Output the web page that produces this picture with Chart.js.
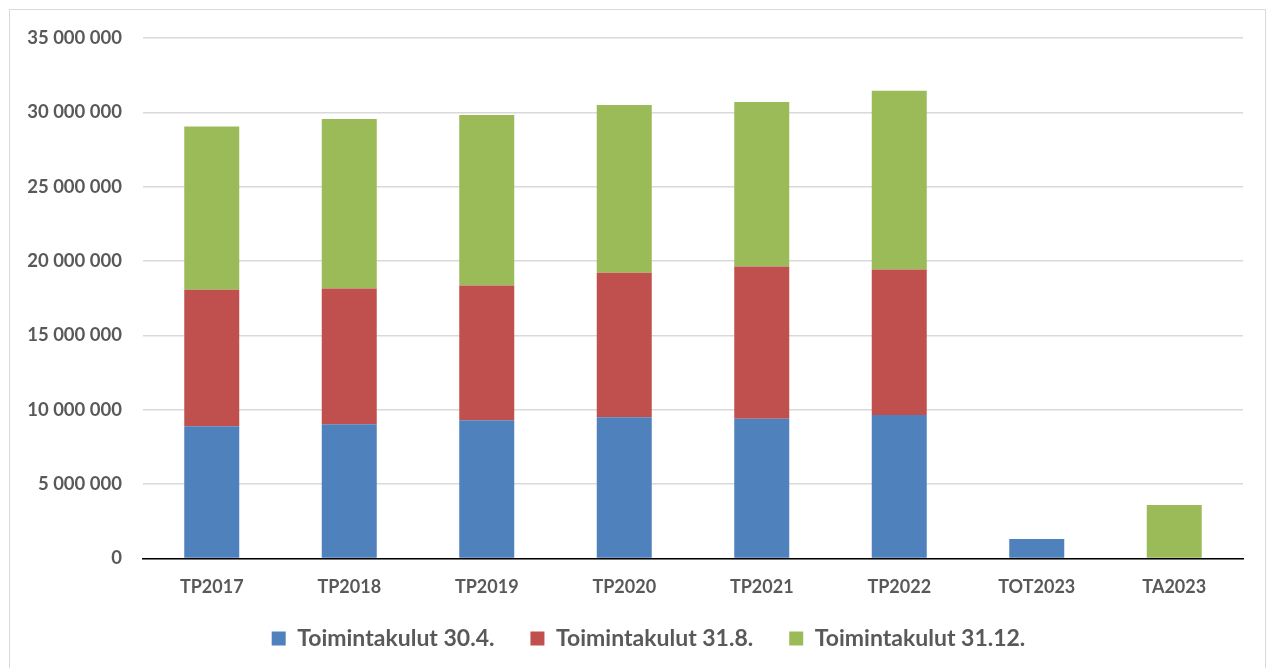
<!DOCTYPE html>
<html>
<head>
<meta charset="utf-8">
<script src="https://cdn.jsdelivr.net/npm/chart.js@4"></script>
<style>
  html, body { margin: 0; padding: 0; background: #fff; }
  #frame {
    position: absolute; left: 9px; top: 9px; width: 1255px; height: 670px;
    border: 1px solid #d9d9d9;
  }
  #wrap { position: absolute; left: 0; top: 0; width: 1271px; height: 668px; }
</style>
</head>
<body>
<div id="frame"></div>
<div id="wrap"><canvas id="kulut-chart"></canvas></div>
<script>
const labels = ["TP2017", "TP2018", "TP2019", "TP2020", "TP2021", "TP2022", "TOT2023", "TA2023"];

// Toimintakulut kertymät (euroa)
const kulut304 = [8880000, 9020000, 9290000, 9490000, 9400000, 9650000, 1300000, 0];
const kulut318 = [9180000, 9130000, 9060000, 9730000, 10230000, 9780000, 0, 0];
const kulut3112 = [10990000, 11400000, 11470000, 11270000, 11060000, 12020000, 0, 3590000];

const yTicks = [0, 5000000, 10000000, 15000000, 20000000, 25000000, 30000000, 35000000];

const fontFamily = "Lato, 'Open Sans', sans-serif";
const textColor = "#595959";

function formatNumber(value) {
  return String(value).replace(/\B(?=(\d{3})+(?!\d))/g, " ");
}

// siirretään selitettä hieman (Excel-asettelu)
const legendShift = {
  id: "legendShift",
  afterLayout(chart) {
    const lg = chart.legend;
    if (!lg) return;
    lg.top -= 25;
    lg.bottom -= 25;
    lg.left += 22;
    lg.right += 22;
  },
};

const ctx = document.getElementById("kulut-chart");

const chart = new Chart(ctx, {
  type: "bar",
  data: {
    labels: labels,
    datasets: [
      { label: "Toimintakulut 30.4.", data: kulut304, backgroundColor: "#4F81BD" },
      { label: "Toimintakulut 31.8.", data: kulut318, backgroundColor: "#C0504D" },
      { label: "Toimintakulut 31.12.", data: kulut3112, backgroundColor: "#9BBB59" },
    ],
  },
  plugins: [legendShift],
  options: {
    responsive: true,
    maintainAspectRatio: false,
    animation: false,
    layout: {
      padding: { left: 10, right: 28, top: 38, bottom: -17 },
    },
    datasets: {
      bar: { categoryPercentage: 1, barPercentage: 0.4, borderWidth: 0 },
    },
    plugins: {
      tooltip: { enabled: false },
      legend: {
        position: "bottom",
        labels: {
          color: textColor,
          font: { family: fontFamily, size: 23, weight: "bold" },
          boxWidth: 14,
          boxHeight: 14,
          padding: 36,
        },
      },
    },
    scales: {
      x: {
        stacked: true,
        grid: { display: false, drawTicks: false },
        border: { display: true, color: "#000", width: 1.5 },
        ticks: {
          color: textColor,
          padding: 18,
          font: { family: fontFamily, size: 18, weight: "bold" },
        },
      },
      y: {
        stacked: true,
        min: 0,
        max: 35000000,
        afterBuildTicks: (scale) => {
          scale.ticks = yTicks.map((v) => ({ value: v }));
        },
        afterFit: (scale) => {
          scale.width = 133;
        },
        border: { display: false },
        grid: { color: "#d9d9d9", lineWidth: 1.5, drawTicks: false },
        ticks: {
          color: textColor,
          padding: 21,
          font: { family: fontFamily, size: 18.5, weight: "bold" },
          callback: function (value) {
            return formatNumber(value);
          },
        },
      },
    },
  },
});
</script>
</body>
</html>
